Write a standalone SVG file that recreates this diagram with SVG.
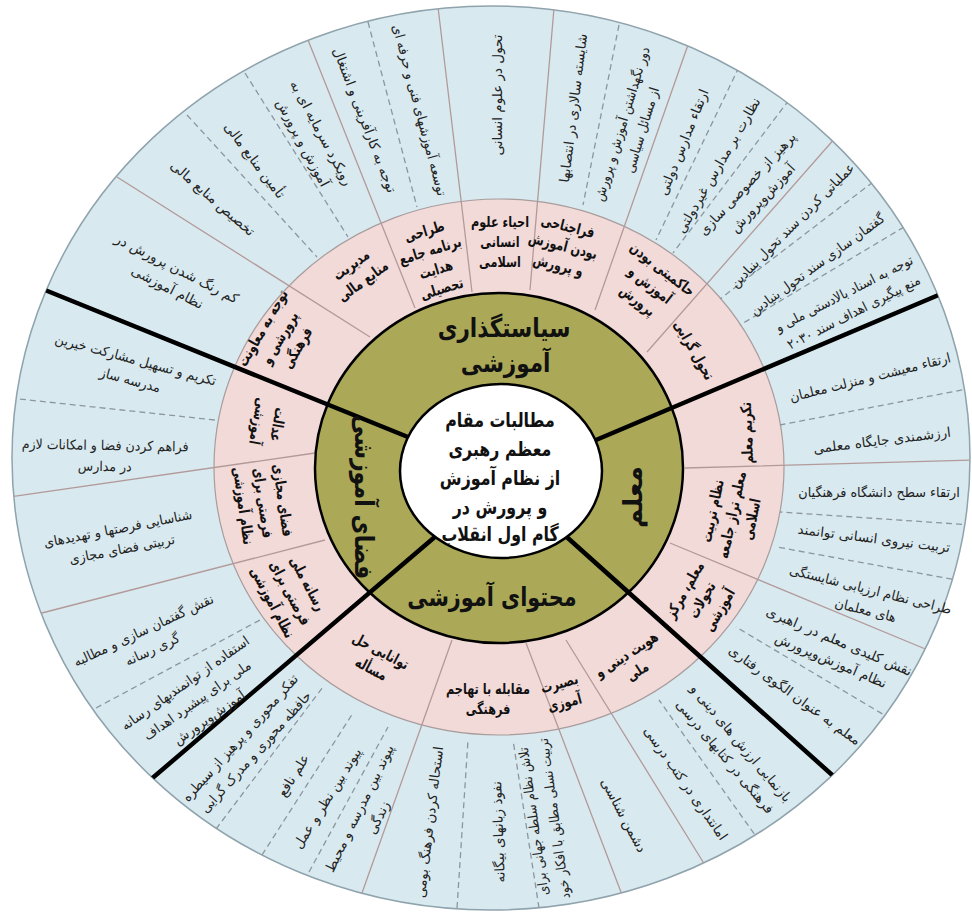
<svg xmlns="http://www.w3.org/2000/svg" width="972" height="912" viewBox="0 0 972 912">
<style>
.o{font-family:"DejaVu Sans",sans-serif;font-size:13.5px;fill:#222;text-anchor:middle}
.p{font-family:"DejaVu Sans",sans-serif;font-size:15px;font-weight:bold;fill:#111;text-anchor:middle}
.c{font-family:"DejaVu Sans",sans-serif;font-size:26px;font-weight:bold;fill:#111;text-anchor:middle}
.w{font-family:"DejaVu Sans",sans-serif;font-size:20px;font-weight:bold;fill:#111;text-anchor:middle}
.sl{stroke:#b39a9a;stroke-width:1.3;fill:none}
.dl{stroke:#8c969e;stroke-width:1.3;stroke-dasharray:6 4;fill:none}
.tk{stroke:#000;stroke-width:4.5;fill:none}
</style>
<defs>
<clipPath id="clipOuter"><ellipse cx="491" cy="458" rx="479" ry="452"/></clipPath>
</defs>
<rect width="972" height="912" fill="#fff"/>
<g id="rings">
<ellipse cx="491" cy="458" rx="479" ry="452" fill="#d8e9ef" stroke="#8fa3ad" stroke-width="1.5"/>
<ellipse cx="499" cy="467" rx="285" ry="268" fill="#f2dad9" stroke="#a89c9c" stroke-width="1.2"/>
</g>
<g id="connectors" clip-path="url(#clipOuter)">
<path class="sl" d="M370,337L117,177M415,308L308,40M472,292L438,7M530,290L554,8M595,310L689,42M647,352L836,137M685,468L975,460M670,543L935,653M566,640L708,870M526,643L624,900M452,640L362,893M325,540L38,614M315,453L10,497"/>
<path class="dl" d="M187,115L317,257M245,73L348,237M368,22L417,207M619,25L583,205M739,67L656,240M789,100L673,253M873,182L720,299M904,227L740,325M972,388L780,425M972,525L780,512M962,581L777,547M891,719L736,627M760,842L659,700M539,908L513,740M457,908L468,740M309,872L388,727M262,855L353,713M216,829L323,687M96,708L260,620M10,398L215,420"/>
</g>
<ellipse id="olive" cx="499" cy="468" rx="184" ry="175" fill="#aba957" stroke="#000" stroke-width="2.5"/>
<g id="thick" clip-path="url(#clipOuter)">
<path class="tk" d="M40,288L440,450M948,291L570,451M149,781L450,524M840,782L550,522"/>
</g>
<g id="center">
<ellipse cx="501" cy="471" rx="101" ry="87" fill="#fff" stroke="#000" stroke-width="2.5"/>
<g transform="translate(500,0) scale(0.79,1)"><text class="w"><tspan x="0" y="427">مطالبات مقام</tspan><tspan x="0" y="456">معظم رهبری</tspan><tspan x="0" y="485">از نظام آموزش</tspan><tspan x="0" y="514">و پرورش در</tspan><tspan x="0" y="541">گام اول انقلاب</tspan></text></g>
</g>
<g id="cat-policy" transform="translate(504,0) scale(0.83,1)"><text class="c"><tspan x="0" y="337">سیاستگذاری</tspan><tspan x="2" y="372">آموزشی</tspan></text></g>
<g id="cat-teacher" transform="translate(633,497) rotate(-90)"><text class="c" y="9">معلم</text></g>
<g id="cat-content" transform="translate(492,606) scale(0.8,1)"><text class="c">محتوای آموزشی</text></g>
<g id="cat-space" transform="translate(364,497) rotate(90) scale(0.85,1)"><text class="c" y="9">فضای آموزشی</text></g>

<g id="p-a" transform="translate(280,338) rotate(-60) scale(0.75,1)"><text class="p"><tspan x="0" y="-15">توجه به معاونت</tspan><tspan x="0" y="5">پرورشی و</tspan><tspan x="0" y="25">فرهنگی</tspan></text></g>
<g id="p-b" transform="translate(357,273) rotate(-36) scale(0.75,1)"><text class="p"><tspan x="0" y="-5">مدیریت</tspan><tspan x="0" y="15">منابع مالی</tspan></text></g>
<g id="p-c" transform="translate(433,260) rotate(-17) scale(0.75,1)"><text class="p"><tspan x="0" y="-25">طراحی</tspan><tspan x="0" y="-5">برنامه جامع</tspan><tspan x="0" y="15">هدایت</tspan><tspan x="0" y="35">تحصیلی</tspan></text></g>
<g id="p-d" transform="translate(500,242) scale(0.75,1)"><text class="p"><tspan x="0" y="-15">احیاء علوم</tspan><tspan x="0" y="5">انسانی</tspan><tspan x="0" y="25">اسلامی</tspan></text></g>
<g id="p-e" transform="translate(563,246) rotate(14) scale(0.75,1)"><text class="p"><tspan x="0" y="-15">فراجناحی</tspan><tspan x="0" y="5">بودن آموزش</tspan><tspan x="0" y="25">و پرورش</tspan></text></g>
<g id="p-f" transform="translate(650,285) rotate(38) scale(0.75,1)"><text class="p"><tspan x="0" y="-15">حاکمیتی بودن</tspan><tspan x="0" y="5">آموزش و</tspan><tspan x="0" y="25">پرورش</tspan></text></g>
<g id="p-g" transform="translate(694,350) rotate(60) scale(0.75,1)"><text class="p" y="5">تحول گرایی</text></g>
<g id="p-h" transform="translate(747,433) rotate(-92) scale(0.75,1)"><text class="p" y="5">تکریم معلم</text></g>
<g id="p-i" transform="translate(732,515) rotate(-78) scale(0.75,1)"><text class="p"><tspan x="0" y="-15">نظام تربیت</tspan><tspan x="0" y="5">معلم تراز جامعه</tspan><tspan x="0" y="25">اسلامی</tspan></text></g>
<g id="p-j" transform="translate(702,600) rotate(-60) scale(0.75,1)"><text class="p"><tspan x="0" y="-15">معلم، مرکز</tspan><tspan x="0" y="5">تحولات</tspan><tspan x="0" y="25">آموزشی</tspan></text></g>
<g id="p-k" transform="translate(632,663) rotate(-33) scale(0.75,1)"><text class="p"><tspan x="0" y="-5">هویت دینی و</tspan><tspan x="0" y="15">ملی</tspan></text></g>
<g id="p-l" transform="translate(562,693) rotate(-15) scale(0.75,1)"><text class="p"><tspan x="0" y="-5">بصیرت</tspan><tspan x="0" y="15">آموزی</tspan></text></g>
<g id="p-m" transform="translate(488,699) scale(0.75,1)"><text class="p"><tspan x="0" y="-5">مقابله با تهاجم</tspan><tspan x="0" y="15">فرهنگی</tspan></text></g>
<g id="p-n" transform="translate(376,660) rotate(28) scale(0.75,1)"><text class="p"><tspan x="0" y="-5">توانایی حل</tspan><tspan x="0" y="15">مسأله</tspan></text></g>
<g id="p-o" transform="translate(290,593) rotate(62) scale(0.75,1)"><text class="p"><tspan x="0" y="-15">رسانه ملی</tspan><tspan x="0" y="5">فرصتی برای</tspan><tspan x="0" y="25">نظام آموزشی</tspan></text></g>
<g id="p-p" transform="translate(263,503) rotate(82) scale(0.75,1)"><text class="p"><tspan x="0" y="-15">فضای مجازی</tspan><tspan x="0" y="5">فرصتی برای</tspan><tspan x="0" y="25">نظام آموزشی</tspan></text></g>
<g id="p-q" transform="translate(268,423) rotate(100) scale(0.75,1)"><text class="p"><tspan x="0" y="-5">عدالت</tspan><tspan x="0" y="15">آموزشی</tspan></text></g>

<g id="o-1" transform="translate(172,278) rotate(27)"><text class="o"><tspan x="0" y="-6">کم رنگ شدن پرورش در</tspan><tspan x="0" y="15">نظام آموزشی</tspan></text></g>
<g id="o-2" transform="translate(213,198) rotate(41)"><text class="o" y="5">تخصیص منابع مالی</text></g>
<g id="o-3" transform="translate(255,160) rotate(53)"><text class="o" y="5">تأمین منابع مالی</text></g>
<g id="o-4" transform="translate(312,138) rotate(62)"><text class="o"><tspan x="0" y="-6">رویکرد سرمایه ای به</tspan><tspan x="0" y="15">آموزش و پرورش</tspan></text></g>
<g id="o-5" transform="translate(365,120) rotate(69)"><text class="o" y="5">توجه به کارآفرینی و اشتغال</text></g>
<g id="o-6" transform="translate(420,110) rotate(75) scale(0.95,1)"><text class="o" y="5">توسعه آموزشهای فنی و حرفه ای</text></g>
<g id="o-7" transform="translate(497,95) rotate(-90)"><text class="o" y="5">تحول در علوم انسانی</text></g>
<g id="o-8" transform="translate(573,108) rotate(-83)"><text class="o" y="5">شایسته سالاری در انتصابها</text></g>
<g id="o-9" transform="translate(632,127) rotate(-73) scale(0.9,1)"><text class="o"><tspan x="0" y="-6">دور نگهداشتن آموزش و پرورش</tspan><tspan x="0" y="15">از مسائل سیاسی</tspan></text></g>
<g id="o-10" transform="translate(683,142) rotate(-68)"><text class="o" y="5">ارتقاء مدارس دولتی</text></g>
<g id="o-11" transform="translate(718,165) rotate(-60)"><text class="o" y="5">نظارت بر مدارس غیردولتی</text></g>
<g id="o-12" transform="translate(755,191) rotate(-47)"><text class="o"><tspan x="0" y="-6">پرهیز از خصوصی سازی</tspan><tspan x="0" y="15">آموزش‌وپرورش</tspan></text></g>
<g id="o-13" transform="translate(792,225) rotate(-45) scale(0.95,1)"><text class="o" y="5">عملیاتی کردن سند تحول بنیادین</text></g>
<g id="o-14" transform="translate(817,264) rotate(-36) scale(0.92,1)"><text class="o" y="5">گفتمان سازی سند تحول بنیادین</text></g>
<g id="o-15" transform="translate(849,303) rotate(-27) scale(0.92,1)"><text class="o"><tspan x="0" y="-6">توجه به اسناد بالادستی ملی و</tspan><tspan x="0" y="15">منع پیگیری اهداف سند ۲۰۳۰</tspan></text></g>
<g id="o-16" transform="translate(870,377) rotate(-14) scale(0.95,1)"><text class="o" y="5">ارتقاء معیشت و منزلت معلمان</text></g>
<g id="o-17" transform="translate(882,440) rotate(-7)"><text class="o" y="5">ارزشمندی جایگاه معلمی</text></g>
<g id="o-18" transform="translate(879,492) scale(0.95,1)"><text class="o" y="5">ارتقاء سطح دانشگاه فرهنگیان</text></g>
<g id="o-19" transform="translate(874,538) rotate(7)"><text class="o" y="5">تربیت نیروی انسانی توانمند</text></g>
<g id="o-20" transform="translate(868,600) rotate(14) scale(0.95,1)"><text class="o"><tspan x="0" y="-6">طراحی نظام ارزیابی شایستگی</tspan><tspan x="0" y="15">های معلمان</tspan></text></g>
<g id="o-21" transform="translate(835,651) rotate(23)"><text class="o"><tspan x="0" y="-6">نقش کلیدی معلم در راهبری</tspan><tspan x="0" y="15">نظام آموزش‌وپرورش</tspan></text></g>
<g id="o-22" transform="translate(795,695) rotate(36)"><text class="o" y="5">معلم به عنوان الگوی رفتاری</text></g>
<g id="o-23" transform="translate(733,750) rotate(50)"><text class="o"><tspan x="0" y="-6">بازنمایی ارزش های دینی و</tspan><tspan x="0" y="15">فرهنگی در کتابهای درسی</tspan></text></g>
<g id="o-24" transform="translate(686,783) rotate(55)"><text class="o" y="5">امانتداری در کتب درسی</text></g>
<g id="o-25" transform="translate(624,815) rotate(62)"><text class="o" y="5">دشمن شناسی</text></g>
<g id="o-26" transform="translate(544,820) rotate(-98) scale(0.9,1)"><text class="o"><tspan x="0" y="-6">تلاش نظام سلطه جهانی برای</tspan><tspan x="0" y="15">تربیت نسلی مطابق با افکار خود</tspan></text></g>
<g id="o-27" transform="translate(498,832) rotate(-92)"><text class="o" y="5">نفوذ زبانهای بیگانه</text></g>
<g id="o-28" transform="translate(429,822) rotate(-83)"><text class="o" y="5">استحاله کردن فرهنگ بومی</text></g>
<g id="o-29" transform="translate(369,813) rotate(-64)"><text class="o"><tspan x="0" y="-6">پیوند بین مدرسه و محیط</tspan><tspan x="0" y="15">زندگی</tspan></text></g>
<g id="o-30" transform="translate(327,798) rotate(-58)"><text class="o" y="5">پیوند بین نظر و عمل</text></g>
<g id="o-31" transform="translate(293,775) rotate(-58)"><text class="o" y="5">علم نافع</text></g>
<g id="o-32" transform="translate(248,745) rotate(-48) scale(0.95,1)"><text class="o"><tspan x="0" y="-6">تفکر محوری و پرهیز از سیطره</tspan><tspan x="0" y="15">حافظه محوری و مدرک گرایی</tspan></text></g>
<g id="o-33" transform="translate(197,700) rotate(-35) scale(0.95,1)"><text class="o"><tspan x="0" y="-16">استفاده از توانمندیهای رسانه</tspan><tspan x="0" y="5">ملی برای پیشبرد اهداف</tspan><tspan x="0" y="26">آموزش‌وپرورش</tspan></text></g>
<g id="o-34" transform="translate(148,640) rotate(-25) scale(0.95,1)"><text class="o"><tspan x="0" y="-6">نقش گفتمان سازی و مطالبه</tspan><tspan x="0" y="15">گری رسانه</tspan></text></g>
<g id="o-35" transform="translate(120,539) rotate(-11) scale(0.95,1)"><text class="o"><tspan x="0" y="-6">شناسایی فرصتها و تهدیدهای</tspan><tspan x="0" y="15">تربیتی فضای مجازی</tspan></text></g>
<g id="o-36" transform="translate(105,456) rotate(1) scale(0.93,1)"><text class="o"><tspan x="0" y="-6">فراهم کردن فضا و امکانات لازم</tspan><tspan x="0" y="15">در مدارس</tspan></text></g>
<g id="o-37" transform="translate(133,370) rotate(15) scale(0.95,1)"><text class="o"><tspan x="0" y="-6">تکریم و تسهیل مشارکت خیرین</tspan><tspan x="0" y="15">مدرسه ساز</tspan></text></g>
</svg>
